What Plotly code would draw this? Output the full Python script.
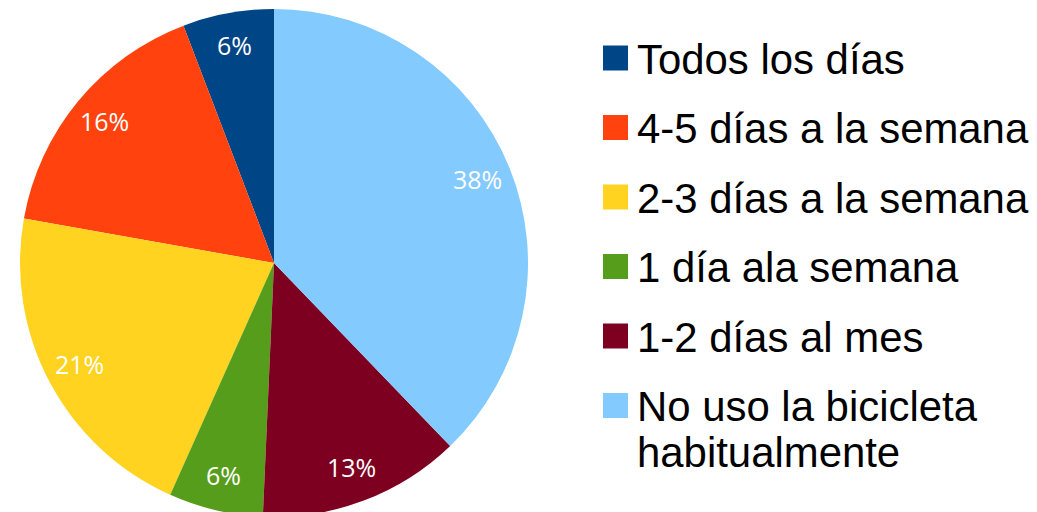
"""
Pie chart: frecuencia de uso de la bicicleta.
"""
import math
import plotly.graph_objects as go

# Data (legend order, top to bottom)
labels = [
    "Todos los días",
    "4-5 días a la semana",
    "2-3 días a la semana",
    "1 día ala semana",
    "1-2 días al mes",
    "No uso la bicicleta<br>habitualmente",
]
values = [5.8, 16.4, 21.1, 6.0, 12.9, 37.8]
colors = ["#004586", "#ff420e", "#ffd320", "#579d1c", "#7e0021", "#83caff"]

W, H = 1037, 512
MT, MB = 1, 3
PLOT_H = H - MT - MB

# pie geometry in figure pixels
cx_px, r_px = 266, PLOT_H / 2
cy_px = MT + PLOT_H / 2
dom_x = [(cx_px - r_px) / W, (cx_px + r_px) / W]


def px_x(px):
    return px / W


def px_y(py):
    return (H - MB - py) / PLOT_H


total = sum(values)

# plotly's counterclockwise pie puts the first slice clockwise of the start angle,
# so rotate back by its size to have it end at 12 o'clock
fig = go.Figure(go.Pie(
    labels=labels,
    values=values,
    sort=False,
    direction='counterclockwise',
    rotation=-360 * values[0] / total,
    marker=dict(colors=colors, line=dict(width=0)),
    textinfo='none',
    hoverinfo='label+percent',
    domain={'x': dom_x, 'y': [0, 1]},
    showlegend=False,
))

# percent labels inside each slice, near the rim
cum = 0
for v in values:
    mid = (cum + v / 2) / total
    cum += v
    theta = 2 * math.pi * mid
    rr = 0.865 * r_px
    x = cx_px - math.sin(theta) * rr
    y = cy_px - math.cos(theta) * rr
    fig.add_annotation(
        x=px_x(x), y=px_y(y - 2), xref='paper', yref='paper',
        text=f"{round(100 * v / total)}%", showarrow=False,
        xanchor='center', yanchor='middle',
        font=dict(family="Open Sans", size=25, color='white'),
    )

# manual legend
sq = 25
leg_x, leg_y0, leg_step, line_h = 595, 50, 69.5, 46
for i, (lab, col) in enumerate(zip(labels, colors)):
    yc = leg_y0 + i * leg_step
    fig.add_shape(
        type='rect', xref='paper', yref='paper',
        x0=px_x(leg_x), x1=px_x(leg_x + sq),
        y0=px_y(yc - sq / 2), y1=px_y(yc + sq / 2),
        fillcolor=col, line=dict(width=0),
    )
    for j, part in enumerate(lab.split("<br>")):
        fig.add_annotation(
            x=px_x(leg_x + 32), y=px_y(yc + 1 + j * line_h), xref='paper', yref='paper',
            text=part, showarrow=False, xanchor='left', yanchor='middle',
            font=dict(family="Liberation Sans", size=41.9, color='black'),
        )

fig.update_layout(
    width=W,
    height=H,
    margin=dict(l=0, r=0, t=MT, b=MB),
    paper_bgcolor='white',
    plot_bgcolor='white',
    showlegend=False,
)

fig.write_html("out.html")
